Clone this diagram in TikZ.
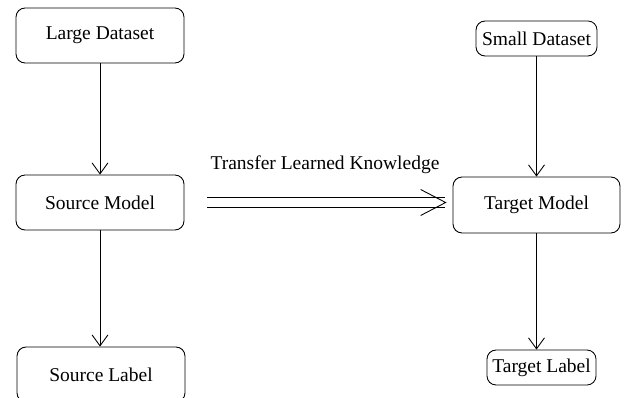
\documentclass[tikz,border=0pt]{standalone}
\usepackage{fontspec}
\setmainfont{Liberation Serif}
\usepackage{tikz}
\usetikzlibrary{arrows.meta, calc, positioning}

\begin{document}
\begin{tikzpicture}[x=0.02cm, y=-0.02cm, font=\fontsize{11.1}{13}\selectfont,
    >={Straight Barb[length=0.22cm, width=0.32cm]}, line width=0.5pt,
    block/.style={draw, rounded corners=0.18cm, inner sep=0pt},
    transfer/.style={double, double distance=0.19cm, shorten <=0.46cm, shorten >=0.12cm,
        -{Straight Barb[length=0.5cm, width=0.52cm]}}]
    \clip (0,0) rectangle (624,398);

    \node[block, minimum width=3.36cm, minimum height=1.1cm] (large) at (100,35.5) {Large Dataset};
    \node[block, minimum width=3.36cm, minimum height=1.1cm] (src) at (100,202.5) {Source Model};
    \node[block, minimum width=3.36cm, minimum height=1.1cm] (srclbl) at (101,374.5) {Source Label};

    \node[block, minimum width=2.42cm, minimum height=0.7cm] (small) at (536.5,38.5) {Small Dataset};
    \node[block, minimum width=3.34cm, minimum height=1.12cm] (tgt) at (536.5,205) {Target Model};
    \node[block, minimum width=2.18cm, minimum height=0.7cm] (tgtlbl) at (541.5,367.5) {Target Label};

    \node (know) at (325,165) {Transfer Learned Knowledge};

    \draw[->] (large.south) -- (src.north);
    \draw[->] (src.south) -- (src.south |- srclbl.north);
    \draw[->] (small.south) -- (small.south |- tgt.north);
    \draw[->] (tgt.south) -- (tgt.south |- tgtlbl.north);

    \draw[transfer] (src.east) -- (src.east -| tgt.west);
\end{tikzpicture}
\end{document}
